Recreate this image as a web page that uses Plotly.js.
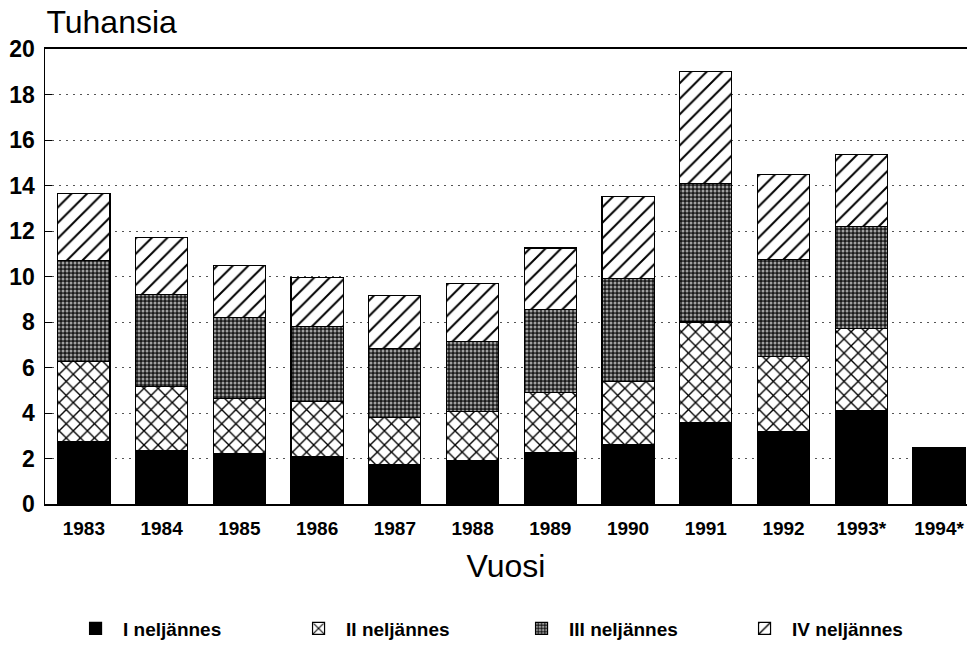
<!DOCTYPE html>
<html>
<head>
<meta charset="utf-8">
<script src="https://cdn.plot.ly/plotly-3.0.1.min.js"></script>
<style>html,body{margin:0;padding:0;background:#fff;}#chart{width:967px;height:646px;}</style>
</head>
<body>
<div id="chart"></div>
<script>
const years = ['1983','1984','1985','1986','1987','1988','1989','1990','1991','1992','1993*','1994*'];
const q1 = [2.75, 2.35, 2.2, 2.1, 1.75, 1.9, 2.25, 2.6, 3.6, 3.2, 4.1, 2.5];
const q2 = [3.5, 2.8, 2.45, 2.4, 2.05, 2.15, 2.65, 2.8, 4.4, 3.3, 3.6, null];
const q3 = [4.45, 4.05, 3.55, 3.3, 3.05, 3.1, 3.65, 4.5, 6.1, 4.25, 4.5, null];
const q4 = [2.95, 2.5, 2.3, 2.15, 2.3, 2.55, 2.7, 3.6, 4.9, 3.75, 3.15, null];
const seriesNames = ['I neljännes', 'II neljännes', 'III neljännes', 'IV neljännes'];
const yTicks = [0,2,4,6,8,10,12,14,16,18,20];

const line = {color: '#000', width: 1.2};
const traces = [
  {name: seriesNames[0], y: q1, marker: {color: '#000', line: line}},
  {name: seriesNames[1], y: q2, marker: {color: '#fff', line: line,
     pattern: {shape: 'x', bgcolor: '#fff', fgcolor: '#000', size: 10, solidity: 0.25, fillmode: 'replace'}}},
  {name: seriesNames[2], y: q3, marker: {color: '#333', line: line,
     pattern: {shape: '.', bgcolor: '#1a1a1a', fgcolor: '#a0a0a0', size: 4, solidity: 0.45, fillmode: 'replace'}}},
  {name: seriesNames[3], y: q4, marker: {color: '#fff', line: line,
     pattern: {shape: '/', bgcolor: '#fff', fgcolor: '#000', size: 11, solidity: 0.18, fillmode: 'replace'}}}
].map(t => Object.assign({type: 'bar', x: years, hoverinfo: 'skip'}, t));

const layout = {
  width: 967, height: 646,
  margin: {l: 45, r: 0, t: 49, b: 142, autoexpand: false},
  paper_bgcolor: '#fff', plot_bgcolor: '#fff',
  barmode: 'stack', bargap: 0.33,
  font: {family: '"Liberation Sans", Arial, sans-serif', color: '#000'},
  title: {text: 'Tuhansia', font: {size: 32, color: '#000'}, x: 0.048, xref: 'container', xanchor: 'left',
          y: 0.984, yref: 'container', yanchor: 'top'},
  xaxis: {
    type: 'category', range: [-0.5, 11.36],
    showline: true, linecolor: '#000', linewidth: 1.8, mirror: true,
    showgrid: false, ticks: '', zeroline: false,
    tickfont: {size: 19, family: '"Liberation Sans", Arial, sans-serif', weight: 'bold'},
    ticklabelstandoff: 6,
    title: {text: 'Vuosi', font: {size: 32}, standoff: 17}
  },
  yaxis: {
    range: [0, 20], tickvals: yTicks, ticktext: yTicks.map(String),
    showline: true, linecolor: '#000', linewidth: 1.5,
    showgrid: true, gridcolor: '#555', gridwidth: 1, griddash: '2px,5px',
    zeroline: false, ticks: 'inside', ticklen: 7, tickcolor: '#000',
    tickfont: {size: 23, family: '"Liberation Sans", Arial, sans-serif', weight: 'bold'},
    ticklabelstandoff: 4
  },
  showlegend: true,
  legend: {
    orientation: 'h', x: 0.025, xanchor: 'left', y: -0.232, yanchor: 'top',
    entrywidth: 163, entrywidthmode: 'pixels', itemwidth: 45,
    font: {size: 19, family: '"Liberation Sans", Arial, sans-serif', weight: 'bold'},
    traceorder: 'normal'
  }
};

Plotly.newPlot('chart', traces, layout, {staticPlot: true, displayModeBar: false});
</script>
</body>
</html>
